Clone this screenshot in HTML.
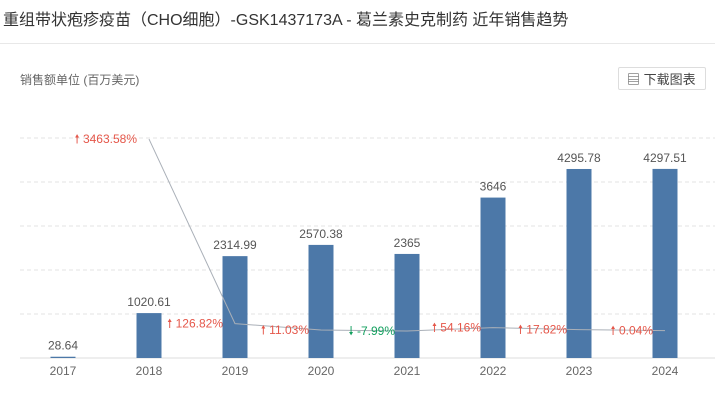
<!DOCTYPE html>
<html><head><meta charset="utf-8"><style>
body{margin:0;width:715px;height:407px;background:#fff;font-family:"Liberation Sans","Noto Sans CJK SC",sans-serif;overflow:hidden;position:relative}
.title{position:absolute;left:3px;top:6px;font-size:16px;color:#333}
.sep{position:absolute;left:0;top:43px;width:715px;height:1px;background:#e8e8e8}
.unit{position:absolute;left:20px;top:71px;font-size:12px;color:#666}
.btn{position:absolute;left:618px;top:67px;width:88px;height:23px;border:1px solid #ddd;border-radius:2px;font-size:13px;color:#444;line-height:23px;box-sizing:border-box;padding-left:8px}
</style></head><body>
<div class="title">重组带状疱疹疫苗（CHO细胞）-GSK1437173A - 葛兰素史克制药 近年销售趋势</div>
<div class="sep"></div>
<div class="unit">销售额单位 (百万美元)</div>
<div class="btn">▤ 下载图表</div>
<svg id="chart" width="715" height="407" style="position:absolute;left:0;top:0"></svg>
<script>
const categories=["2017","2018","2019","2020","2021","2022","2023","2024"];
const sales=[28.64,1020.61,2314.99,2570.38,2365,3646,4295.78,4297.51];
const salesLabels=["28.64","1020.61","2314.99","2570.38","2365","3646","4295.78","4297.51"];
const growth=[null,3463.58,126.82,11.03,-7.99,54.16,17.82,0.04];
const growthLabels=[null,"3463.58%","126.82%","11.03%","-7.99%","54.16%","17.82%","0.04%"];
const gridValues=[1000,2000,3000,4000,5000];
const svg=document.getElementById('chart');
const NS='http://www.w3.org/2000/svg';
function x(i){return 63+86*i;}
function y(v){return 358-v*0.044;}
function yg(g){return 330.6-g*0.0553;}
function mk(t,a,name,txt){const e=document.createElementNS(NS,t);for(const k in a)e.setAttribute(k,a[k]);


if(txt!==undefined)e.textContent=txt;svg.appendChild(e);return e;}
gridValues.forEach(v=>mk('line',{x1:20,x2:715,y1:y(v),y2:y(v),stroke:'#e3e3e3','stroke-dasharray':'4,3'},'grid-line'));
mk('line',{x1:20,x2:715,y1:358,y2:358,stroke:'#dcdcdc'},'x-axis');
categories.forEach((c,i)=>{
 const top=y(sales[i]);
 mk('rect',{x:x(i)-12.5,y:top,width:25,height:358-top,fill:'#4c78a8'},'bar-'+c);
 mk('text',{x:x(i),y:top-7,'text-anchor':'middle','font-size':12,fill:'#555'},'value-label-'+c,salesLabels[i]);
 mk('text',{x:x(i),y:375,'text-anchor':'middle','font-size':12,fill:'#666'},'x-tick-'+c,c);
});
let pts=[];growth.forEach((g,i)=>{if(g!==null)pts.push(x(i)+','+yg(g));});
mk('polyline',{points:pts.join(' '),fill:'none',stroke:'#aab0b8','stroke-width':1},'growth-line');
growth.forEach((g,i)=>{if(g===null)return;
 const up=g>=0,col=up?'#e5574a':'#14a05f';
 mk('text',{x:x(i)-12,y:yg(g)+4,'text-anchor':'end','font-size':12,fill:col},'growth-label-'+categories[i],(up?'🠕 ':'🠗 ')+growthLabels[i]);
});
</script>
</body></html>
